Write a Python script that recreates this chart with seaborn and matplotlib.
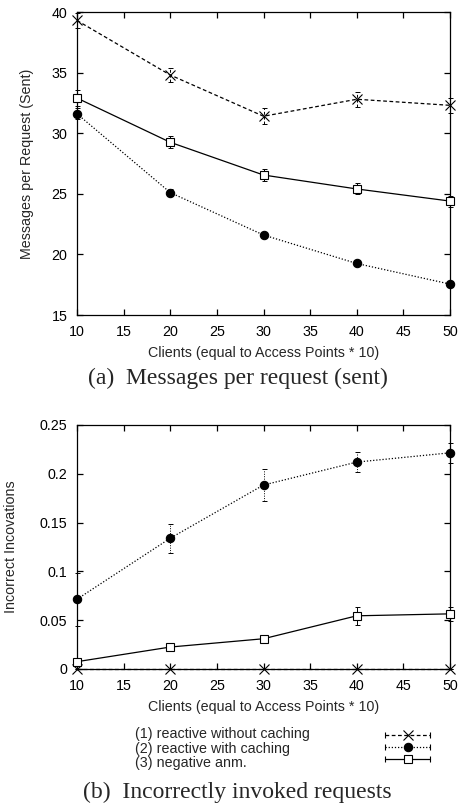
import matplotlib
matplotlib.use("Agg")
import numpy as np
import pandas as pd
import matplotlib.pyplot as plt
import seaborn as sns
from matplotlib.lines import Line2D
from matplotlib.legend_handler import HandlerLine2D
from matplotlib.ticker import FuncFormatter, MultipleLocator

# ---- data -------------------------------------------------------------
clients = [10, 20, 30, 40, 50]
series_labels = [
    "(1) reactive without caching",
    "(2) reactive with caching",
    "(3) negative anm.",
]

# (a) messages per request (sent)
sent_no_cache = [39.3, 34.8, 31.4, 32.8, 32.3]
sent_no_cache_err = [0.6, 0.6, 0.65, 0.6, 0.6]
sent_cache = [31.6, 25.1, 21.6, 19.25, 17.55]
sent_cache_err = [0.45, 0.3, 0.2, 0.2, 0.2]
sent_neg = [32.9, 29.25, 26.55, 25.4, 24.4]
sent_neg_err = [0.65, 0.5, 0.5, 0.45, 0.45]

# (b) incorrectly invoked requests
wrong_no_cache = [0.0, 0.0, 0.0, 0.0, 0.0]
wrong_no_cache_err = [0.0, 0.0, 0.0, 0.0, 0.0]
wrong_cache = [0.0715, 0.134, 0.1885, 0.212, 0.2215]
wrong_cache_err = [0.027, 0.015, 0.016, 0.01, 0.01]
wrong_neg = [0.0075, 0.0225, 0.031, 0.0545, 0.0565]
wrong_neg_err = [0.003, 0.004, 0.004, 0.009, 0.007]

# ---- styling ----------------------------------------------------------
sns.set_style("ticks")
plt.rcParams["font.family"] = ["Liberation Sans", "DejaVu Sans"]

LW = 0.9
styles = {
    series_labels[0]: dict(marker="x", linestyle=(0, (3, 2)), markersize=6.5,
                           mfc="black"),
    series_labels[1]: dict(marker="o", linestyle=(0, (1, 1.5)), markersize=6,
                           mfc="black"),
    series_labels[2]: dict(marker="s", linestyle="-", markersize=6,
                           mfc="white"),
}

FS = 10.3


def panel_frame(values, errors):
    rows = []
    for label, ys, es in zip(series_labels, values, errors):
        for x, y, e in zip(clients, ys, es):
            rows.append({"clients": x, "value": y, "err": e, "series": label})
    return pd.DataFrame(rows)


def draw_panel(ax, df):
    for label in series_labels:
        sub = df[df["series"] == label]
        st = styles[label]
        eb = ax.errorbar(sub["clients"], sub["value"], yerr=sub["err"],
                         fmt="none", ecolor="black", elinewidth=0.7,
                         capsize=1.8, capthick=0.7, clip_on=False, zorder=2)
        for coll in eb[2]:
            coll.set_linestyle(st["linestyle"])
        sns.lineplot(data=sub, x="clients", y="value", ax=ax, color="black",
                     errorbar=None, legend=False, lw=LW,
                     linestyle=st["linestyle"], marker=st["marker"],
                     markersize=st["markersize"],
                     markerfacecolor=st["mfc"], markeredgecolor="black",
                     markeredgewidth=0.8, clip_on=False, zorder=3)


def style_axes(ax):
    ax.set_xlim(10, 50)
    ax.xaxis.set_major_locator(MultipleLocator(5))
    ax.tick_params(direction="in", top=True, right=True, length=4,
                   width=0.9, labelsize=FS, colors="black", pad=7)
    ax.tick_params(axis="x", pad=7.5)
    for sp in ax.spines.values():
        sp.set_visible(True)
        sp.set_linewidth(0.9)
        sp.set_color("black")
    ax.set_xlabel("Clients (equal to Access Points * 10)", fontsize=FS,
                  labelpad=5)


fig = plt.figure(figsize=(4.61, 8.06), dpi=100)
W, H = 461, 806
ax1 = fig.add_axes([77 / W, 1 - 315 / H, 373 / W, 303 / H])
ax2 = fig.add_axes([77 / W, 1 - 669 / H, 373 / W, 244 / H])

df_a = panel_frame([sent_no_cache, sent_cache, sent_neg],
                   [sent_no_cache_err, sent_cache_err, sent_neg_err])
df_b = panel_frame([wrong_no_cache, wrong_cache, wrong_neg],
                   [wrong_no_cache_err, wrong_cache_err, wrong_neg_err])

draw_panel(ax1, df_a)
draw_panel(ax2, df_b)

style_axes(ax1)
ax1.set_ylim(15, 40)
ax1.yaxis.set_major_locator(MultipleLocator(5))
ax1.set_ylabel("Messages per Request (Sent)", fontsize=FS)
ax1.yaxis.set_label_coords(-0.115, 0.5)

style_axes(ax2)
ax2.set_ylim(0, 0.25)
ax2.yaxis.set_major_locator(MultipleLocator(0.05))
ax2.yaxis.set_major_formatter(FuncFormatter(lambda v, _: f"{v:g}"))
ax2.set_ylabel("Incorrect Incovations", fontsize=FS)
ax2.yaxis.set_label_coords(-0.158, 0.5)


# ---- legend: labels on the left, capped line samples on the right ------
class CappedLine(HandlerLine2D):
    def create_artists(self, legend, orig_handle, xdescent, ydescent,
                       width, height, fontsize, trans):
        arts = super().create_artists(legend, orig_handle, xdescent, ydescent,
                                      width, height, fontsize, trans)
        y = (height - ydescent) / 2
        caps = Line2D([-xdescent, -xdescent + width], [y, y],
                      linestyle="none", marker="|", markersize=4,
                      color="black", markeredgewidth=0.8)
        caps.set_transform(trans)
        return list(arts) + [caps]


handles = [
    Line2D([], [], color="black", lw=LW, linestyle=styles[l]["linestyle"],
           marker=styles[l]["marker"], markersize=styles[l]["markersize"],
           markerfacecolor=styles[l]["mfc"], markeredgecolor="black",
           markeredgewidth=0.8)
    for l in series_labels
]
fig.legend(handles, ["", "", ""], handler_map={Line2D: CappedLine()},
           loc="center", bbox_to_anchor=(407.5 / W, 1 - 748.5 / H),
           frameon=False, handlelength=3.6, handletextpad=0,
           labelspacing=0, borderpad=0, fontsize=9)

for label, yp in zip(series_labels, [734, 748.5, 763]):
    fig.text(135 / W, 1 - yp / H, label, ha="left", va="center", fontsize=FS)

# ---- sub-captions ------------------------------------------------------
cap_font = ["Liberation Serif", "DejaVu Serif"]
fig.text(237.5 / W, 1 - 378 / H, "(a)  Messages per request (sent)",
         ha="center", va="center", fontsize=17, family=cap_font)
fig.text(237.5 / W, 1 - 792 / H, "(b)  Incorrectly invoked requests",
         ha="center", va="center", fontsize=17, family=cap_font)

fig.savefig("out.png", dpi=100)
